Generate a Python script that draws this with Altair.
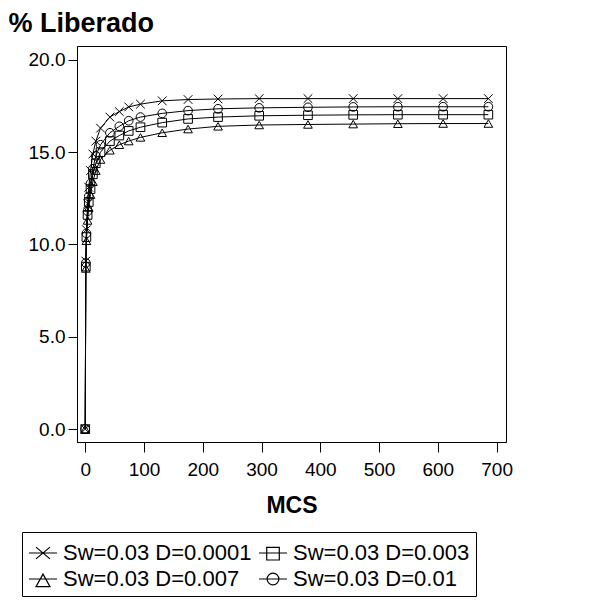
import altair as alt
import pandas as pd

# MCS sample points
mcs = [0, 1, 2, 4, 6, 9, 13, 18, 26, 42, 58, 74, 94, 131, 175, 226, 296, 379, 456, 532, 609, 686]

# % liberado for each series
d0001 = [0, 9.1, 10.8, 12.2, 13.1, 14.0, 14.9, 15.6, 16.3, 16.9, 17.2, 17.45, 17.6, 17.78, 17.85, 17.88, 17.9, 17.9, 17.9, 17.9, 17.9, 17.9]
d003 = [0, 8.8, 10.4, 11.6, 12.3, 13.0, 13.8, 14.4, 15.0, 15.6, 15.9, 16.15, 16.35, 16.6, 16.8, 16.9, 16.97, 17.0, 17.02, 17.03, 17.03, 17.03]
d007 = [0, 8.7, 10.2, 11.3, 12.0, 12.7, 13.4, 14.0, 14.6, 15.1, 15.4, 15.6, 15.8, 16.05, 16.25, 16.4, 16.47, 16.5, 16.52, 16.54, 16.55, 16.55]
d01 = [0, 9.0, 10.6, 11.8, 12.6, 13.3, 14.1, 14.8, 15.4, 16.05, 16.4, 16.7, 16.9, 17.1, 17.25, 17.35, 17.4, 17.43, 17.45, 17.46, 17.46, 17.46]

series = ["Sw=0.03 D=0.0001", "Sw=0.03 D=0.003", "Sw=0.03 D=0.007", "Sw=0.03 D=0.01"]
values = [d0001, d003, d007, d01]

rows = []
for s, vals in zip(series, values):
    for m, v in zip(mcs, vals):
        rows.append({"MCS": m, "pct": v, "serie": s})
df = pd.DataFrame(rows)

plot_shapes = ["M-1,-1L1,1M-1,1L1,-1", "square", "triangle-up", "circle"]
legend_shapes = [
    "M-1,0L1,0M-0.5,-0.42L0.5,0.42M-0.5,0.42L0.5,-0.42",
    "M-1,0L1,0M-0.45,-0.4L0.45,-0.4L0.45,0.5L-0.45,0.5Z",
    "M-1,0L1,0M0,-0.35L0.5,0.55L-0.5,0.55Z",
    "M-1,0L1,0M-0.42,0A0.42,0.42,0,1,1,0.42,0A0.42,0.42,0,1,1,-0.42,0",
]

FONT = "Liberation Sans"

x = alt.X(
    "MCS:Q",
    scale=alt.Scale(domain=[-14, 716], nice=False, zero=False),
    axis=alt.Axis(
        values=list(range(0, 701, 100)), title="MCS", tickSize=10, labelPadding=8,
        labelFontSize=19, titleFontSize=23, titleFontWeight="bold",
        titleY=70, titleBaseline="alphabetic", grid=False,
    ),
)
y = alt.Y(
    "pct:Q",
    scale=alt.Scale(domain=[-0.7, 20.75], nice=False, zero=False),
    axis=alt.Axis(
        values=[0, 5, 10, 15, 20], format=".1f", title="% Liberado", tickSize=9,
        labelPadding=3, labelFontSize=19, titleAngle=0, titleAlign="left",
        titleX=-69, titleY=-15, titleBaseline="alphabetic", titleFontSize=27,
        titleFontWeight="bold", grid=False,
    ),
)

base = alt.Chart(df).encode(x=x, y=y)

lines = base.mark_line(color="black", strokeWidth=1).encode(detail="serie:N", order="MCS:Q")

points = base.mark_point(filled=False, color="black", size=75, strokeWidth=1, opacity=1).encode(
    shape=alt.Shape("serie:N", scale=alt.Scale(domain=series, range=plot_shapes), legend=None)
)

legend_layer = base.mark_point(filled=False, color="black", strokeWidth=1.2, opacity=1).encode(
    shape=alt.Shape(
        "serie:N",
        scale=alt.Scale(domain=series, range=legend_shapes),
        legend=alt.Legend(
            title=None, orient="none", legendX=-55, legendY=486, columns=2,
            direction="horizontal",
            strokeColor="black", padding=6, labelFontSize=22, labelFont=FONT,
            labelColor="black", symbolSize=784, symbolStrokeWidth=1.2,
            symbolStrokeColor="black", labelOffset=5, columnPadding=4, rowPadding=0,
            labelLimit=400,
        ),
    )
).transform_filter("false")

chart = (
    alt.layer(lines, points, legend_layer)
    .resolve_scale(shape="independent")
    .properties(
        width=429, height=396,
        padding={"left": 77, "top": 46, "right": 100, "bottom": 162},
        autosize=alt.AutoSizeParams(type="none"),
        background="white",
    )
    .configure_view(stroke="black", strokeWidth=1)
    .configure_axis(
        domainColor="black", tickColor="black", labelColor="black", titleColor="black",
        labelFont=FONT, titleFont=FONT,
    )
)

chart.save("out.html", embed_options={"renderer": "svg", "actions": False})
